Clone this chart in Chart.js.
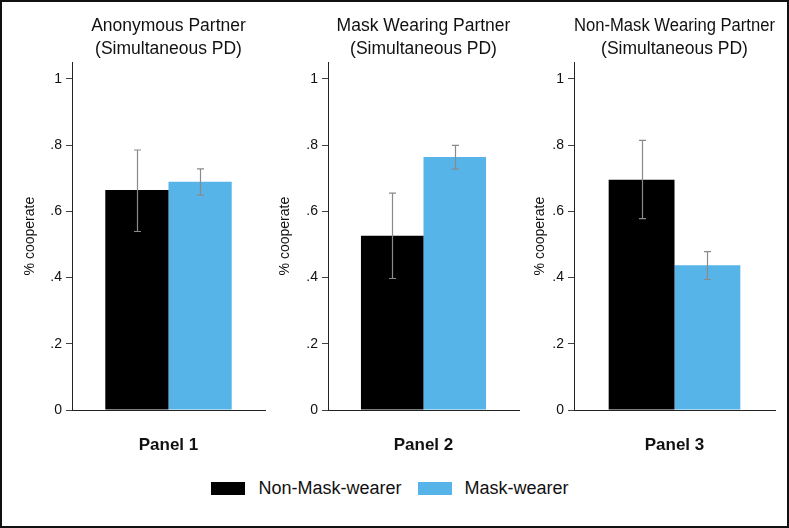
<!DOCTYPE html>
<html>
<head>
<meta charset="utf-8">
<script src="https://cdn.jsdelivr.net/npm/chart.js@4.4.1/dist/chart.umd.min.js"></script>
<style>
  body { margin: 0; background: #fff; font-family: "Liberation Sans", Arial, sans-serif; }
  #frame { position: absolute; left: 0; top: 0; width: 789px; height: 528px; border: 2px solid #111; box-sizing: border-box; }
  canvas { position: absolute; top: 0; }
  #legend { position: absolute; left: 0; top: 478px; width: 780px; display: flex; justify-content: center; align-items: center; font-size: 18px; color: #111; }
  #legend .box { width: 34px; height: 13px; margin-right: 13px; }
  #legend .item { display: flex; align-items: center; margin-right: 16px; }
  #legend .item:last-child { margin-right: 0; }
</style>
</head>
<body>
<div id="frame"></div>
<canvas id="p1" width="250" height="470" style="left:22px"></canvas>
<canvas id="p2" width="250" height="470" style="left:277px"></canvas>
<canvas id="p3" width="255" height="470" style="left:532px"></canvas>
<div id="legend"></div>

<script>
// data
var panelTitles = [
  ["Anonymous Partner", "(Simultaneous PD)"],
  ["Mask Wearing Partner", "(Simultaneous PD)"],
  ["Non-Mask Wearing Partner", "(Simultaneous PD)"]
];
var panelLabels = ["Panel 1", "Panel 2", "Panel 3"];
var seriesNames = ["Non-Mask-wearer", "Mask-wearer"];
var seriesColors = ["#000000", "#56B4E9"];

var nonMaskMean = [0.664, 0.526, 0.695];
var nonMaskLow  = [0.539, 0.397, 0.578];
var nonMaskHigh = [0.785, 0.655, 0.814];

var maskMean = [0.689, 0.764, 0.437];
var maskLow  = [0.649, 0.727, 0.394];
var maskHigh = [0.728, 0.799, 0.478];

var yTickValues = [0, 0.2, 0.4, 0.6, 0.8, 1];

// layout of each small chart: width of y axis box, right padding
var panelLayout = [
  { axisW: 50, padR: 7 },
  { axisW: 51, padR: 8 },
  { axisW: 42, padR: 12 }
];

var errorBars = {
  id: 'errorBars',
  afterDatasetsDraw: function(chart) {
    var ctx = chart.ctx;
    var y = chart.scales.y;
    ctx.save();
    ctx.strokeStyle = '#8a8a8a';
    ctx.lineWidth = 1.2;
    chart.data.datasets.forEach(function(ds, i) {
      var meta = chart.getDatasetMeta(i);
      meta.data.forEach(function(bar, j) {
        var top = y.getPixelForValue(ds.high[j]);
        var bot = y.getPixelForValue(ds.low[j]);
        var x = Math.round(bar.x) + 0.5;
        ctx.beginPath();
        ctx.moveTo(x, top); ctx.lineTo(x, bot);
        ctx.moveTo(x - 3.5, top); ctx.lineTo(x + 3.5, top);
        ctx.moveTo(x - 3.5, bot); ctx.lineTo(x + 3.5, bot);
        ctx.stroke();
      });
    });
    ctx.restore();
  }
};

function fmtTick(v) {
  if (v === 0) return '0';
  if (Math.abs(v - 1) < 1e-9) return '1';
  return String(Math.round(v * 10) / 10).replace(/^0/, '');
}

function makePanel(id, k) {
  var lay = panelLayout[k];
  new Chart(document.getElementById(id), {
    type: 'bar',
    data: {
      labels: [panelLabels[k]],
      datasets: [
        { label: seriesNames[0], data: [nonMaskMean[k]], low: [nonMaskLow[k]], high: [nonMaskHigh[k]],
          backgroundColor: seriesColors[0] },
        { label: seriesNames[1], data: [maskMean[k]], low: [maskLow[k]], high: [maskHigh[k]],
          backgroundColor: seriesColors[1] }
      ]
    },
    options: {
      responsive: false,
      animation: false,
      categoryPercentage: 0.655,
      barPercentage: 1.0,
      layout: { padding: { left: 0, right: lay.padR, top: 0, bottom: 15 } },
      plugins: {
        legend: { display: false },
        tooltip: { enabled: false },
        title: {
          display: true,
          fullSize: false,
          text: panelTitles[k],
          color: '#111',
          font: { family: '"Liberation Sans", Arial, sans-serif', size: 17.5, weight: 'normal', lineHeight: 1.35 },
          padding: { top: 14, bottom: 1 }
        }
      },
      scales: {
        x: {
          afterFit: function(axis) { axis.height = 45; },
          grid: { display: false, drawTicks: false },
          border: { display: true, color: '#222', width: 1 },
          ticks: {
            color: '#111', padding: 25,
            font: { family: '"Liberation Sans", Arial, sans-serif', size: 17, weight: 'bold' }
          }
        },
        y: {
          min: 0, max: 1.05,
          afterFit: function(axis) { axis.width = lay.axisW; },
          afterBuildTicks: function(axis) {
            axis.ticks = yTickValues.map(function(v) { return { value: v }; });
          },
          grid: { display: true, drawOnChartArea: false, drawTicks: true, tickLength: 6, color: '#444' },
          border: { display: true, color: '#222', width: 1 },
          ticks: {
            color: '#111', padding: 4,
            font: { family: '"Liberation Sans", Arial, sans-serif', size: 14 },
            callback: function(v) { return fmtTick(v); }
          },
          title: {
            display: true, text: '% cooperate', color: '#111', padding: { top: 0, bottom: 0 },
            font: { family: '"Liberation Sans", Arial, sans-serif', size: 14 }
          }
        }
      }
    },
    plugins: [errorBars]
  });
}

makePanel('p1', 0);
makePanel('p2', 1);
makePanel('p3', 2);

// shared legend below the panels
var legend = document.getElementById('legend');
seriesNames.forEach(function(name, i) {
  var item = document.createElement('div');
  item.className = 'item';
  var box = document.createElement('span');
  box.className = 'box';
  box.style.background = seriesColors[i];
  var txt = document.createElement('span');
  txt.textContent = name;
  item.appendChild(box);
  item.appendChild(txt);
  legend.appendChild(item);
});
</script>
</body>
</html>
